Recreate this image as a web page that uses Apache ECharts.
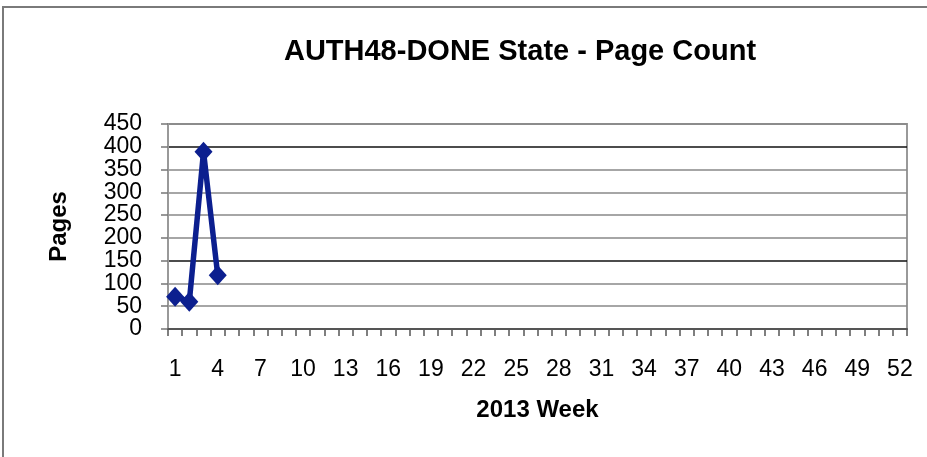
<!DOCTYPE html>
<html>
<head>
<meta charset="utf-8">
<script src="https://cdn.jsdelivr.net/npm/echarts@6/dist/echarts.min.js"></script>
<style>html,body{margin:0;padding:0;background:#fff;}#c{width:927px;height:457px;}</style>
</head>
<body>
<div id="c"></div>
<script>
const weeks = Array.from({length: 52}, (_, i) => String(i + 1));
const pages = [71, 60, 389, 118];
const yTicks = [0, 50, 100, 150, 200, 250, 300, 350, 400, 450];

const chart = echarts.init(document.getElementById('c'), null, {renderer: 'canvas'});
const font = '"Liberation Sans", Arial, sans-serif';
const gridLeft = 168;
chart.setOption({
  animation: false,
  backgroundColor: '#fff',
  title: {
    text: 'AUTH48-DONE State - Page Count',
    left: 515, top: 32, textAlign: 'center',
    textStyle: {fontFamily: font, fontSize: 29, fontWeight: 'bold', color: '#000'}
  },
  graphic: [{
    id: 'frame',
    type: 'rect', shape: {x: 3, y: 7, width: 1000, height: 1000},
    style: {fill: 'none', stroke: '#7a7a7a', lineWidth: 2}, silent: true
  }],
  grid: {left: gridLeft, right: 20, top: 124, bottom: 128, show: true, borderColor: '#999', borderWidth: 2},
  xAxis: {
    type: 'category', data: weeks, boundaryGap: true,
    name: '2013 Week', nameLocation: 'middle', nameGap: 69,
    nameTextStyle: {fontFamily: font, fontSize: 24, fontWeight: 'bold', color: '#000'},
    axisLine: {lineStyle: {color: '#555', width: 2}},
    axisTick: {show: true, interval: 0, length: 7, lineStyle: {color: '#555', width: 1.5}},
    axisLabel: {interval: 2, margin: 29, fontFamily: font, fontSize: 23, color: '#000'},
    splitLine: {show: false}
  },
  yAxis: {
    type: 'value', min: yTicks[0], max: yTicks[yTicks.length - 1], interval: 50,
    name: 'Pages', nameLocation: 'middle', nameGap: 97, nameRotate: 90,
    nameTextStyle: {fontFamily: font, fontSize: 24, fontWeight: 'bold', color: '#000'},
    axisLine: {show: true, lineStyle: {color: '#999', width: 2}},
    axisTick: {show: true, length: 7, lineStyle: {color: '#777', width: 1.5}},
    axisLabel: {show: false},
    splitLine: {show: true, lineStyle: {color: ['#888', '#888', '#888', '#111', '#888'], width: 1.5}}
  },
  series: [{
    type: 'line', data: pages,
    showAllSymbol: true,
    lineStyle: {color: '#0c1f8f', width: 5.5},
    itemStyle: {color: '#0c1f8f'},
    symbol: 'diamond', symbolSize: [18, 20]
  }]
});
// y tick labels as real text, positioned through the axis scale
const labels = yTicks.map((v, i) => ({
  id: 'yl' + i,
  type: 'text',
  x: gridLeft - 26,
  y: chart.convertToPixel({yAxisIndex: 0}, v),
  style: {text: String(v), fontFamily: font, fontSize: 23, fill: '#000', align: 'right', verticalAlign: 'middle'},
  silent: true
}));
chart.setOption({graphic: labels});
</script>
</body>
</html>
